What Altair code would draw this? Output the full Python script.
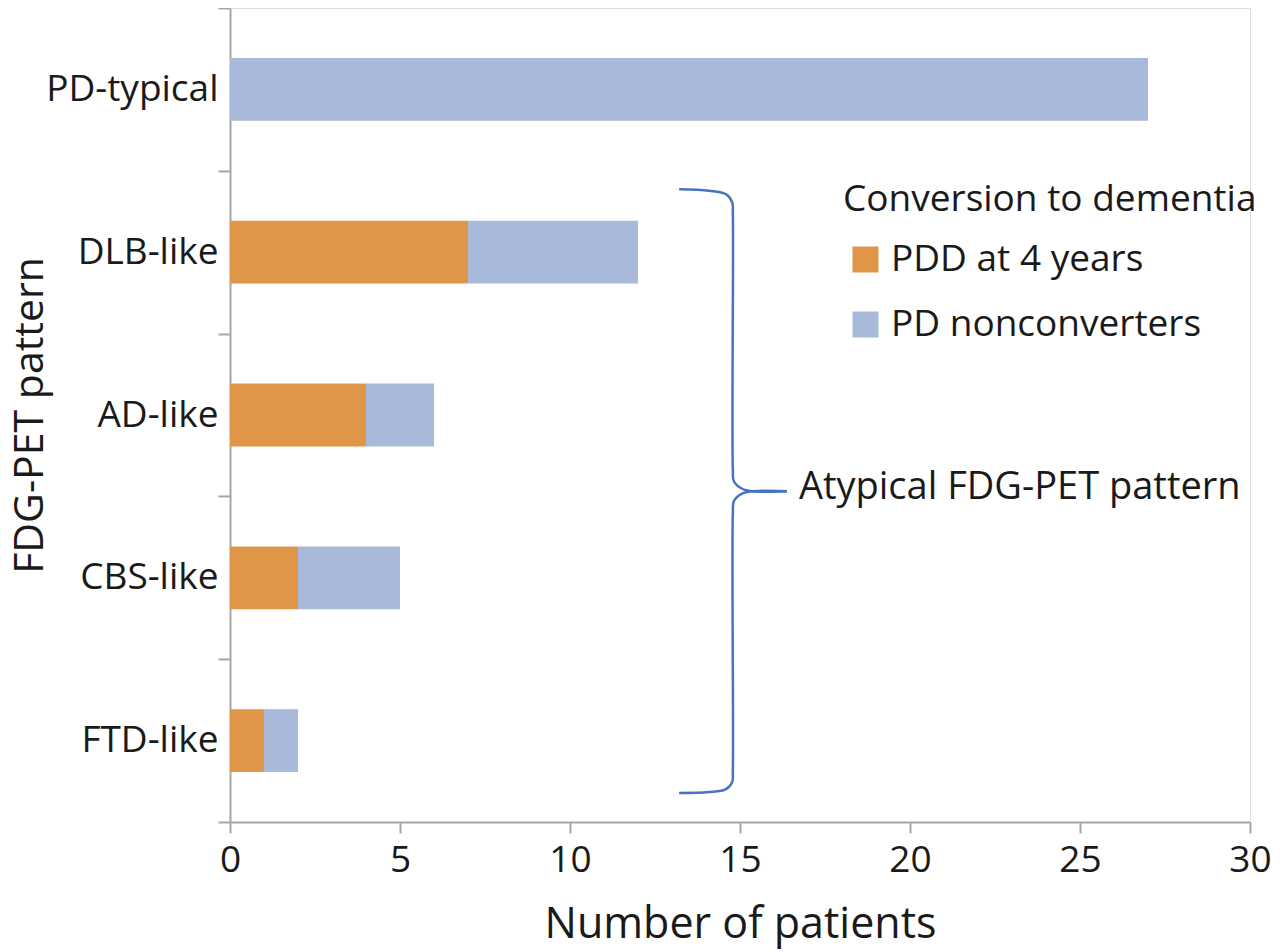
import altair as alt
import pandas as pd

# ---- data ----
patterns = ["PD-typical", "DLB-like", "AD-like", "CBS-like", "FTD-like"]
pdd_4y = [0, 7, 4, 2, 1]
nonconverters = [27, 5, 2, 3, 1]
groups = ["PDD at 4 years", "PD nonconverters"]
group_colors = ["#DF9648", "#A9B9D9"]
x_ticks = [0, 5, 10, 15, 20, 25, 30]

# curly brace annotation (x in patients, y in category-band units from top)
brace_seg = ["up"] * 10 + ["down"] * 10
brace_x = [13.21, 14.09, 14.59, 14.77, 14.79, 14.79, 14.82, 15.06, 15.35, 16.38,
           16.38, 15.35, 15.06, 14.82, 14.79, 14.79, 14.77, 14.59, 14.09, 13.21]
brace_y = [1.114, 1.123, 1.144, 1.193, 1.267, 2.834, 2.907, 2.953, 2.968, 2.968,
           2.968, 2.968, 2.983, 3.029, 3.103, 4.682, 4.755, 4.798, 4.816, 4.822]
brace_label = "Atypical FDG-PET pattern"
brace_label_x = 16.38
brace_label_y = 2.968

rows = []
for p, a, b in zip(patterns, pdd_4y, nonconverters):
    rows.append({"pattern": p, "group": groups[0], "n": a, "ord": 0})
    rows.append({"pattern": p, "group": groups[1], "n": b, "ord": 1})
bars_df = pd.DataFrame(rows)

brace_df = pd.DataFrame({"seg": brace_seg, "x": brace_x, "y": brace_y,
                         "i": list(range(len(brace_x)))})
label_df = pd.DataFrame({"x": [brace_label_x], "y": [brace_label_y], "t": [brace_label]})

FONT = "Open Sans"
TXT = "#1A1A1A"
AX = "#A6A6A6"

xscale = alt.Scale(domain=[0, 30], nice=False, zero=True)

bars = alt.Chart(bars_df).mark_bar(height={"band": 0.386}).encode(
    x=alt.X("n:Q", stack="zero", scale=xscale,
            axis=alt.Axis(title="Number of patients", values=x_ticks, grid=False,
                          labelFlush=False,
                          domainColor=AX, domainWidth=2, tickColor=AX, tickWidth=2,
                          tickSize=11, labelPadding=9, labelFontSize=37,
                          labelColor=TXT, labelFont=FONT, titleFont=FONT,
                          titleFontSize=43, titleFontWeight="normal", titleColor=TXT,
                          titleBaseline="alphabetic", titleY=115)),
    y=alt.Y("pattern:N", sort=patterns,
            scale=alt.Scale(paddingInner=0, paddingOuter=0),
            axis=alt.Axis(title="FDG-PET pattern", tickBand="extent", grid=False,
                          domainColor=AX, domainWidth=2, tickColor=AX, tickWidth=2,
                          tickSize=12, labelPadding=0, labelFontSize=37,
                          labelColor=TXT, labelFont=FONT, titleFont=FONT,
                          titleFontSize=41, titleFontWeight="normal", titleColor=TXT,
                          titleBaseline="alphabetic", titleX=-188)),
    color=alt.Color("group:N", scale=alt.Scale(domain=groups, range=group_colors),
                    legend=alt.Legend(title="Conversion to dementia", orient="none",
                                      legendX=613, legendY=174, padding=0,
                                      titleFont=FONT, titleFontSize=37,
                                      titleFontWeight="normal", titleColor=TXT,
                                      titlePadding=22, titleLimit=2000,
                                      labelFont=FONT, labelLimit=2000,
                                      labelFontSize=37, labelColor=TXT,
                                      labelOffset=7, rowPadding=27,
                                      symbolType="square", symbolSize=676,
                                      symbolStrokeWidth=0, symbolOpacity=1,
                                      symbolOffset=4)),
    order=alt.Order("ord:Q"),
)

yq = alt.Scale(domain=[0, 5], reverse=True, nice=False, zero=False)

brace = alt.Chart(brace_df).mark_line(color="#4A72C0", strokeWidth=2.5,
                                      interpolate="catmull-rom").encode(
    x=alt.X("x:Q", scale=xscale),
    y=alt.Y("y:Q", scale=yq, axis=None),
    detail="seg:N",
    order="i:Q",
)

label = alt.Chart(label_df).mark_text(align="left", baseline="alphabetic", dx=12, dy=8,
                                      font=FONT, fontSize=38, color=TXT).encode(
    x=alt.X("x:Q", scale=xscale),
    y=alt.Y("y:Q", scale=yq, axis=None),
    text="t:N",
)

chart = alt.layer(bars, brace, label).resolve_scale(y="independent").properties(
    width=1020, height=814,
    autosize=alt.AutoSizeParams(type="none"),
    padding={"left": 222, "top": 0, "right": 22, "bottom": 128},
).configure_view(stroke=None).configure(font=FONT)

chart.save("out.html", embed_options={"renderer": "svg", "actions": False})
